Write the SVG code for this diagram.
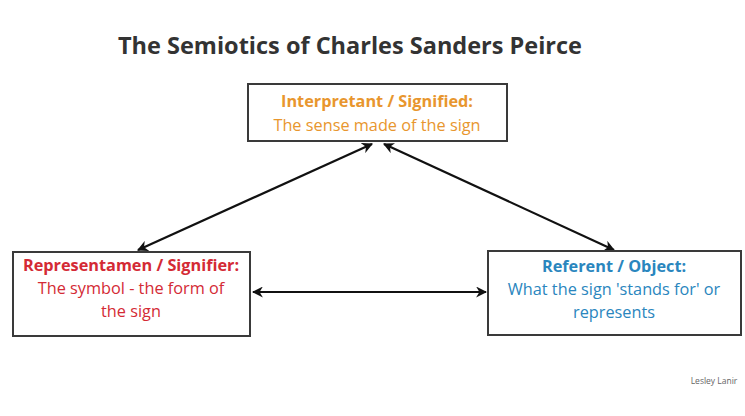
<svg xmlns="http://www.w3.org/2000/svg" width="745" height="416" viewBox="0 0 745 416">
<style>
.box{fill:#fff;stroke:#3a3a3a;stroke-width:2}
.t{font-family:"Open Sans","Liberation Sans",sans-serif;text-anchor:middle;font-size:16.3px}
.b{font-weight:bold}
.or{fill:#E8962E}.rd{fill:#D42A35}.bl{fill:#2A86BE}
.ln{stroke:#111;stroke-width:2.2;fill:none;marker-end:url(#ah);marker-start:url(#ah)}
</style>
<defs>
<marker id="ah" viewBox="0 0 10 10" refX="9" refY="5" markerWidth="5" markerHeight="5" orient="auto-start-reverse" markerUnits="strokeWidth">
<path d="M0,0 L10,5 L0,10 L3,5 z" fill="#111"/>
</marker>
</defs>
<rect width="745" height="416" fill="#fff"/>
<text x="350" y="54" style="font-family:'Open Sans','Liberation Sans',sans-serif;font-weight:bold;font-size:23.5px;fill:#333" text-anchor="middle">The Semiotics of Charles Sanders Peirce</text>
<g id="connectors">
<line class="ln" x1="372" y1="144" x2="138" y2="250"/>
<line class="ln" x1="384" y1="144" x2="614" y2="250"/>
<line class="ln" x1="253" y1="292" x2="486" y2="292"/>
</g>
<g id="interpretant">
<rect class="box" x="248" y="84" width="259" height="57"/>
<text class="t b or" x="377" y="107">Interpretant / Signified:</text>
<text class="t or" x="377" y="131">The sense made of the sign</text>
</g>
<g id="representamen">
<rect class="box" x="13" y="252" width="237" height="84"/>
<text class="t b rd" x="131" y="271">Representamen / Signifier:</text>
<text class="t rd" x="131" y="294">The symbol - the form of</text>
<text class="t rd" x="131" y="317">the sign</text>
</g>
<g id="referent">
<rect class="box" x="488" y="251" width="253" height="84"/>
<text class="t b bl" x="614" y="272">Referent / Object:</text>
<text class="t bl" x="614" y="295">What the sign 'stands for' or</text>
<text class="t bl" x="614" y="318">represents</text>
</g>
<text x="714" y="384" style="font-family:'Open Sans','Liberation Sans',sans-serif;font-size:8.5px;fill:#666" text-anchor="middle">Lesley Lanir</text>
</svg>
